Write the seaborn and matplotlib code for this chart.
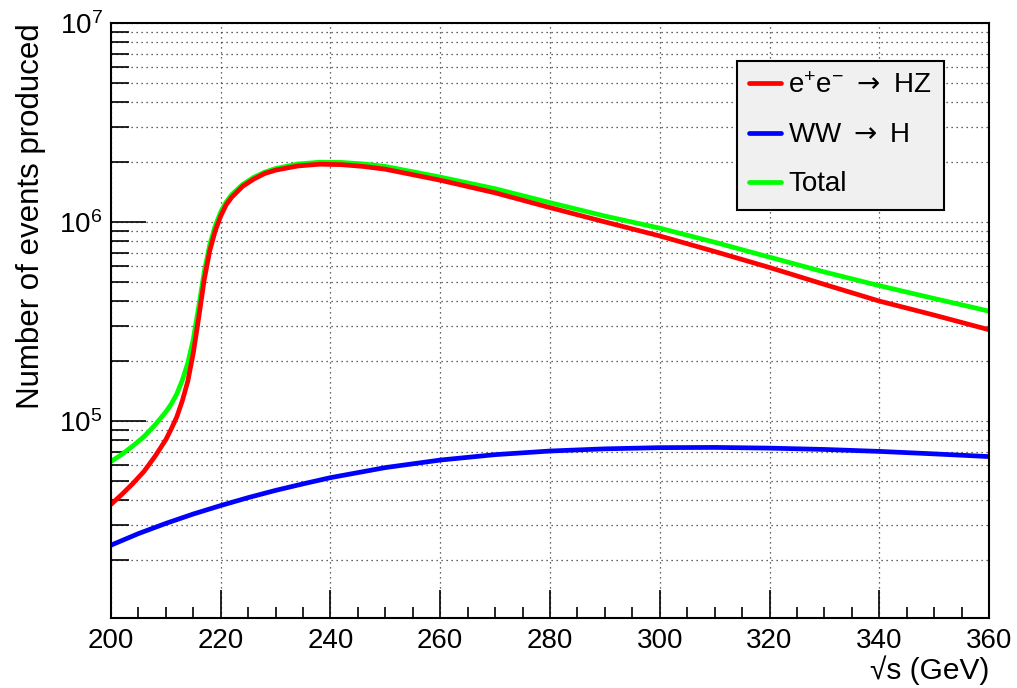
import numpy as np
import pandas as pd
import matplotlib
matplotlib.use("Agg")
import matplotlib.pyplot as plt
import matplotlib.ticker as mticker
import seaborn as sns

# -----------------------------
# Data
# -----------------------------
# HZ and Total share one sqrt(s) grid (dense where the threshold rise is)
sqrt_s = [200, 202, 204, 206, 208, 210, 211, 212, 213, 214, 215, 216, 217, 218, 219,
          220, 221, 222, 224, 226, 228, 230, 234, 238, 242, 246, 250, 260, 270, 280,
          290, 300, 310, 320, 330, 340, 350, 360]

hz_events = [3.80e4, 4.27e4, 4.84e4, 5.56e4, 6.61e4, 8.04e4, 9.12e4, 1.047e5, 1.26e5,
             1.58e5, 2.19e5, 3.31e5, 5.13e5, 7.16e5, 9.02e5,
             1.07e6, 1.22e6, 1.33e6, 1.51e6, 1.64e6, 1.75e6, 1.82e6, 1.91e6, 1.95e6,
             1.94e6, 1.90e6, 1.84e6, 1.62e6, 1.40e6, 1.18e6,
             1.0e6, 8.5e5, 7.1e5, 5.9e5, 4.85e5, 4.0e5, 3.4e5, 2.87e5]

total_events = [6.24e4, 6.79e4, 7.48e4, 8.32e4, 9.51e4, 1.109e5, 1.216e5, 1.365e5, 1.60e5,
                1.95e5, 2.57e5, 3.76e5, 5.62e5, 7.67e5, 9.55e5,
                1.122e6, 1.259e6, 1.371e6, 1.542e6, 1.675e6, 1.778e6, 1.854e6, 1.954e6,
                1.995e6, 1.99e6, 1.956e6, 1.90e6, 1.68e6, 1.468e6, 1.25e6,
                1.07e6, 9.3e5, 7.9e5, 6.65e5, 5.6e5, 4.78e5, 4.12e5, 3.56e5]

# WW fusion is smooth, coarser grid is enough
sqrt_s_ww = [200, 205, 210, 215, 220, 225, 230, 235, 240, 250, 260, 270, 280, 290,
             300, 310, 320, 330, 340, 350, 360]
ww_events = [2.37e4, 2.71e4, 3.05e4, 3.40e4, 3.75e4, 4.11e4, 4.47e4, 4.82e4, 5.18e4,
             5.82e4, 6.35e4, 6.76e4, 7.05e4, 7.23e4, 7.33e4, 7.35e4, 7.29e4, 7.18e4,
             7.02e4, 6.82e4, 6.61e4]

# arrow drawn from DejaVu (mathtext sf) - wider than the Liberation one
series_names = [r"$\mathregular{e^{+}e^{-}}$ $\mathsf{\rightarrow}$ HZ",
                r"WW $\mathsf{\rightarrow}$ H", "Total"]
series_colors = ["#ff0000", "#0000ff", "#00ff00"]

x_ticks = [200, 220, 240, 260, 280, 300, 320, 340, 360]


def main() -> None:
    sns.set_theme(style="white")
    plt.rcParams["font.family"] = ["Liberation Sans", "DejaVu Sans"]
    plt.rcParams["mathtext.fontset"] = "custom"
    plt.rcParams["mathtext.rm"] = "Liberation Sans"
    plt.rcParams["mathtext.sf"] = "DejaVu Sans"
    plt.rcParams["mathtext.default"] = "regular"
    plt.rcParams["text.color"] = "black"
    plt.rcParams["axes.labelcolor"] = "black"

    # long-form table for seaborn
    df = pd.concat([
        pd.DataFrame({"sqrt_s": sqrt_s, "events": hz_events, "process": series_names[0]}),
        pd.DataFrame({"sqrt_s": sqrt_s_ww, "events": ww_events, "process": series_names[1]}),
        pd.DataFrame({"sqrt_s": sqrt_s, "events": total_events, "process": series_names[2]}),
    ])

    fig = plt.figure(figsize=(10.17, 6.88), dpi=100)
    ax = fig.add_axes([0.1091, 0.1017, 0.8634, 0.8649])

    # draw total first so red sits on top of green (as in reference)
    for name, color in zip(series_names[::-1], series_colors[::-1]):
        sub = df[df["process"] == name]
        sns.lineplot(data=sub, x="sqrt_s", y="events", color=color, linewidth=3.4,
                     sort=False, ax=ax, label=name)

    ax.set_yscale("log")
    ax.set_xlim(200, 360)
    ax.set_ylim(1.02e4, 1e7)

    # ticks, ROOT-like: inside, bottom/left only
    ax.set_xticks(x_ticks)
    ax.xaxis.set_minor_locator(mticker.MultipleLocator(5))
    ax.yaxis.set_major_locator(mticker.LogLocator(base=10, numticks=10))
    ax.yaxis.set_minor_locator(mticker.LogLocator(base=10, subs=np.arange(2, 10), numticks=20))
    ax.yaxis.set_minor_formatter(mticker.NullFormatter())
    ax.tick_params(axis="both", which="both", direction="in", colors="black",
                   labelsize=20, bottom=True, left=True, top=False, right=False)
    ax.tick_params(axis="x", which="major", length=20, width=1.2, pad=7)
    ax.tick_params(axis="x", which="minor", length=8, width=1.2)
    ax.tick_params(axis="y", which="major", length=25, width=1.2, pad=6)
    ax.tick_params(axis="y", which="minor", length=13, width=1.2)

    # dotted grid on major x and all y ticks
    grid_kw = dict(color="#333333", linestyle=(0, (1, 3)), linewidth=0.9)
    ax.grid(True, axis="x", which="major", **grid_kw)
    ax.grid(True, axis="y", which="both", **grid_kw)
    ax.set_axisbelow(True)

    for sp in ax.spines.values():
        sp.set_color("black")
        sp.set_linewidth(1.5)

    ax.set_xlabel("√s (GeV)", fontsize=21.5, loc="right", labelpad=1)
    ax.set_ylabel("Number of events produced", fontsize=22.5, loc="top", labelpad=10)

    # legend with the original order
    handles, labels = ax.get_legend_handles_labels()
    order = [labels.index(n) for n in series_names]
    leg = ax.legend([handles[i] for i in order], [labels[i] for i in order],
                    loc="upper left", bbox_to_anchor=(0.7127, 0.9366),
                    borderaxespad=0, fontsize=20, frameon=True, fancybox=False,
                    facecolor="#f0f0f0", edgecolor="black", framealpha=1,
                    handlelength=1.15, handletextpad=0.25, labelspacing=0.83,
                    borderpad=0.45)
    leg.get_frame().set_linewidth(1.5)

    fig.savefig("out.png", dpi=100)
    plt.close(fig)


if __name__ == "__main__":
    main()
